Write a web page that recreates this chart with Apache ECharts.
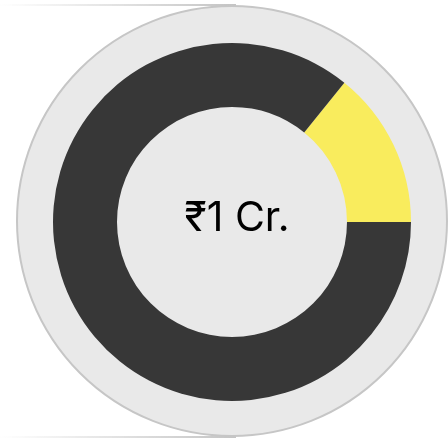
<!DOCTYPE html>
<html>
<head>
<meta charset="utf-8">
<script src="https://cdn.jsdelivr.net/npm/echarts@6/dist/echarts.min.js"></script>
<style>
  html, body { margin: 0; padding: 0; background: #ffffff; }
  #chart { width: 448px; height: 441px; }
</style>
</head>
<body>
<div id="chart"></div>
<script>
// slice names and shares (percent of the ring)
const sliceNames = ['Gain', 'Invested']
const sliceValues = [14.2, 85.8]
const sliceColors = ['#F9EC5D', '#373737']
const centerLabel = '₹1 Cr.'

const chart = echarts.init(document.getElementById('chart'))

const fadeLine = new echarts.graphic.LinearGradient(0, 0, 1, 0, [
    { offset: 0, color: 'rgba(196,196,196,0)' },
    { offset: 1, color: 'rgba(196,196,196,1)' },
])

const option = {
    animation: false,
    graphic: [
        // faded guide lines at the top and bottom
        { type: 'rect', shape: { x: 0, y: 4, width: 236, height: 2 }, style: { fill: fadeLine }, z: 0 },
        { type: 'rect', shape: { x: 0, y: 436, width: 236, height: 2 }, style: { fill: fadeLine }, z: 0 },
    ],
    title: {
        text: centerLabel,
        left: 232,
        top: 214,
        textAlign: 'center',
        textVerticalAlign: 'middle',
        textStyle: {
            fontFamily: 'Inter, "Noto Sans", sans-serif',
            fontSize: 41,
            fontWeight: 400,
            color: '#000000',
        },
    },
    series: [
        {
            // background disc
            type: 'pie',
            center: [232, 221],
            radius: [0, 215],
            silent: true,
            z: 1,
            label: { show: false },
            labelLine: { show: false },
            itemStyle: { color: '#E9E9E9', borderColor: '#C6C6C6', borderWidth: 2 },
            data: [{ value: 1 }],
        },
        {
            type: 'pie',
            center: [232, 222],
            radius: [115, 179],
            startAngle: 0,
            clockwise: false,
            z: 2,
            label: { show: false },
            labelLine: { show: false },
            data: sliceNames.map((n, i) => ({
                name: n,
                value: sliceValues[i],
                itemStyle: { color: sliceColors[i] },
            })),
        },
    ],
}
chart.setOption(option)
</script>
</body>
</html>
